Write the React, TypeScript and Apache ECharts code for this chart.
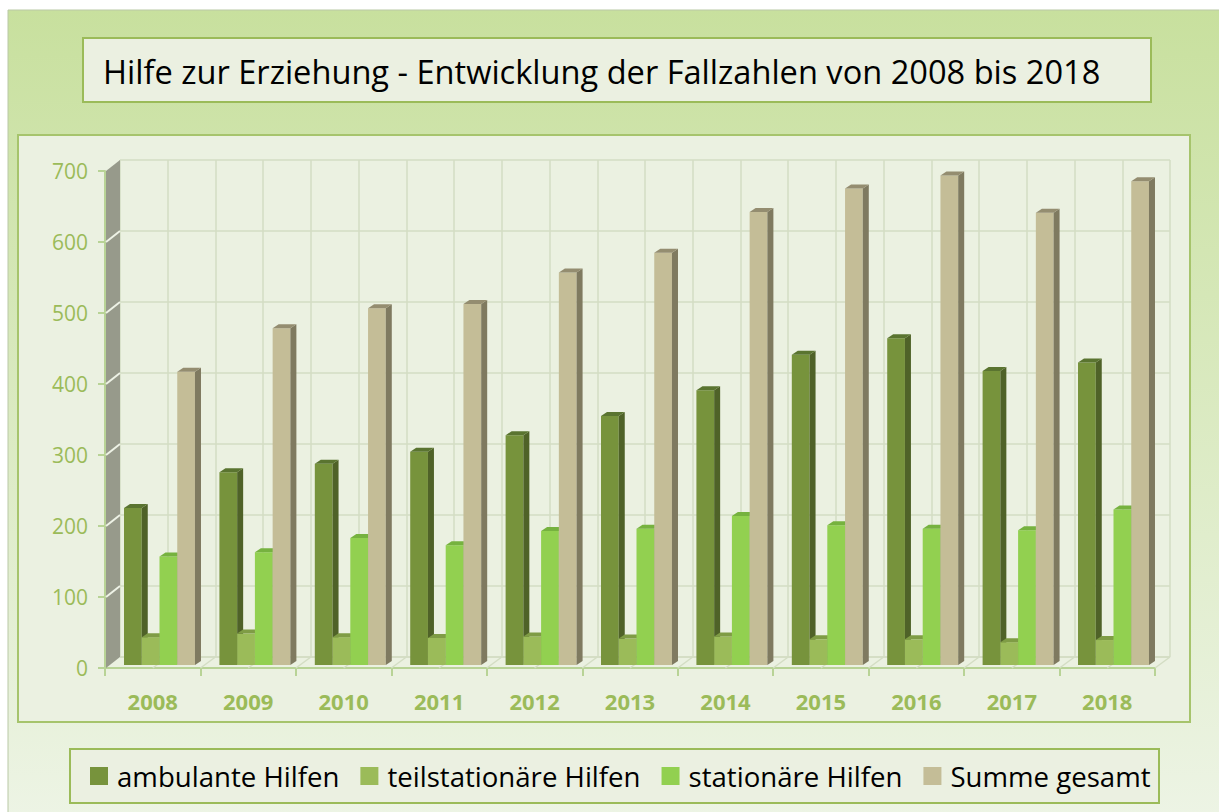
import React, { useEffect, useRef } from "react";
import * as echarts from "echarts";

const years = ["2008", "2009", "2010", "2011", "2012", "2013", "2014", "2015", "2016", "2017", "2018"];
const ambulante = [220, 270, 282, 299, 322, 349, 385, 435, 458, 412, 424];
const teilstationaer = [39, 44, 39, 38, 40, 37, 40, 36, 36, 32, 35];
const stationaer = [152, 158, 178, 168, 188, 191, 209, 196, 191, 189, 218];
const summe = [411, 472, 500, 506, 550, 578, 635, 668, 686, 634, 678];
const yTicks = [0, 100, 200, 300, 400, 500, 600, 700];
const seriesNames = ["ambulante Hilfen", "teilstationäre Hilfen", "stationäre Hilfen", "Summe gesamt"];
const titleText = "Hilfe zur Erziehung - Entwicklung der Fallzahlen von 2008 bis 2018";

const frontColors = ["#77933c", "#9bbb59", "#92d050", "#c4bd97"];
const sideColors = ["#4f6228", "#718c3c", "#6aa538", "#7f7a60"];
const topColors = ["#5a7430", "#7f9c45", "#76b23f", "#948d70"];

const DX = 15;
const DY = 11;
const BAR_DX = 6;
const BAR_DY = 4;
const AXIS_GREEN = "#b8d396";
const LABEL_GREEN = "#9bbb59";
const GRID_LINE = "#d3ddc3";

export default function App() {
  const ref = useRef<HTMLDivElement>(null);
  useEffect(() => {
    if (!ref.current) return;
    const chart = echarts.init(ref.current, null, { renderer: "svg" });
    const allSeries = [ambulante, teilstationaer, stationaer, summe];

    const barRender = (idx: number) => (params: any, api: any) => {
      const cat = api.value(0);
      const val = api.value(1);
      const topPt = api.coord([cat, val]);
      const basePt = api.coord([cat, 0]);
      const band = api.size([1, 0])[0];
      const bw = band * 0.186;
      const x0 = topPt[0] + (idx - 2) * bw;
      const x1 = x0 + bw;
      const yT = topPt[1];
      const yB = basePt[1];
      return {
        type: "group",
        children: [
          { type: "rect", shape: { x: x0, y: yT, width: bw, height: yB - yT }, style: { fill: frontColors[idx] } },
          {
            type: "polygon",
            shape: { points: [[x1, yT], [x1 + BAR_DX, yT - BAR_DY], [x1 + BAR_DX, yB - BAR_DY], [x1, yB]] },
            style: { fill: sideColors[idx] },
          },
          {
            type: "polygon",
            shape: { points: [[x0, yT], [x0 + BAR_DX, yT - BAR_DY], [x1 + BAR_DX, yT - BAR_DY], [x1, yT]] },
            style: { fill: topColors[idx] },
          },
        ],
      };
    };

    const wallRender = (params: any, api: any) => {
      const band = api.size([1, 0])[0];
      const b0 = api.coord([0, 0]);
      const t0 = api.coord([0, 700]);
      const xl = b0[0] - band / 2;
      const xr = xl + band * years.length;
      const children: any[] = [];
      children.push({
        type: "polygon",
        shape: { points: [[xl + 1, b0[1]], [xl + 1, t0[1]], [xl + DX, t0[1] - DY], [xl + DX, b0[1] - DY]] },
        style: { fill: "#979a8b" },
      });
      yTicks.forEach((t) => {
        const p = api.coord([0, t]);
        if (t > 0 && t < 700) {
          children.push({
            type: "line",
            shape: { x1: xl + 1, y1: p[1], x2: xl + DX, y2: p[1] - DY },
            style: { stroke: "#eef2e6", lineWidth: 2 },
          });
        }
      });
      for (let k = 1; k <= years.length * 2; k++) {
        const x = xl + (band / 2) * k;
        children.push({
          type: "line",
          shape: { x1: x, y1: b0[1], x2: x + DX, y2: b0[1] - DY },
          style: { stroke: GRID_LINE, lineWidth: 1.5 },
        });
      }
      children.push({
        type: "line",
        shape: { x1: xl + DX, y1: b0[1] - DY, x2: xr + DX, y2: b0[1] - DY },
        style: { stroke: GRID_LINE, lineWidth: 1.5 },
      });
      return { type: "group", children };
    };

    const option: any = {
      animation: false,
      backgroundColor: "#ffffff",
      title: {
        text: titleText,
        left: 98,
        top: 50,
        textStyle: { fontFamily: "Open Sans", fontSize: 32.6, fontWeight: "normal", color: "#000000" },
      },
      legend: {
        data: seriesNames,
        left: 85,
        top: 757,
        itemWidth: 18,
        itemHeight: 18,
        itemGap: 21,
        icon: "rect",
        textStyle: { fontFamily: "Open Sans", fontSize: 27.6, color: "#000000", padding: [0, 0, 0, 4] },
      },
      graphic: [
        {
          type: "rect",
          z: -10,
          shape: { x: 8, y: 10, width: 1220, height: 810 },
          style: {
            fill: new echarts.graphic.LinearGradient(0, 0, 0, 1, [
              { offset: 0, color: "#c8e09e" },
              { offset: 1, color: "#edf4e5" },
            ]),
            stroke: "#b9c8a5",
            lineWidth: 1,
          },
        },
        {
          type: "rect",
          z: -9,
          shape: { x: 83, y: 38, width: 1068, height: 64 },
          style: { fill: "#ebf0e1", stroke: "#9bbb59", lineWidth: 2 },
        },
        {
          type: "rect",
          z: -9,
          shape: { x: 18, y: 135, width: 1172, height: 587 },
          style: { fill: "#ebf1e1", stroke: "#a6c46c", lineWidth: 2 },
        },
        {
          type: "rect",
          z: -9,
          shape: { x: 70, y: 749, width: 1089, height: 54 },
          style: { fill: "#ebf0e1", stroke: "#9bbb59", lineWidth: 2 },
        },
      ],
      grid: [
        { left: 105, right: 64, top: 171, bottom: 144 },
        { left: 120, right: 49, top: 160, bottom: 155 },
        { left: 111.8, right: 57.8, top: 165.6, bottom: 147 },
      ],
      xAxis: [
        {
          gridIndex: 0,
          type: "category",
          data: years,
          boundaryGap: true,
          axisLine: { show: true, lineStyle: { color: AXIS_GREEN, width: 2 } },
          axisTick: { show: true, length: 8, lineStyle: { color: AXIS_GREEN, width: 2 } },
          axisLabel: {
            margin: 22,
            color: LABEL_GREEN,
            fontFamily: "Open Sans",
            fontSize: 22,
            fontWeight: "bold",
          },
          splitLine: { show: false },
        },
        {
          gridIndex: 1,
          type: "value",
          min: 0,
          max: 22,
          interval: 1,
          axisLine: { show: false },
          axisTick: { show: false },
          axisLabel: { show: false },
          splitLine: { show: true, lineStyle: { color: GRID_LINE, width: 1.5 } },
        },
        {
          gridIndex: 2,
          type: "category",
          data: years,
          show: false,
        },
      ],
      yAxis: [
        {
          gridIndex: 0,
          type: "value",
          min: 0,
          max: 700,
          interval: 100,
          axisLine: { show: true, lineStyle: { color: AXIS_GREEN, width: 2 } },
          axisTick: { show: true, length: 7, lineStyle: { color: AXIS_GREEN, width: 2 } },
          axisLabel: { margin: 17, color: LABEL_GREEN, fontFamily: "Open Sans", fontSize: 21 },
          splitLine: { show: false },
        },
        {
          gridIndex: 1,
          type: "value",
          min: 0,
          max: 700,
          interval: 100,
          axisLine: { show: false },
          axisTick: { show: false },
          axisLabel: { show: false },
          splitLine: { show: true, lineStyle: { color: GRID_LINE, width: 1.5 } },
        },
        {
          gridIndex: 2,
          type: "value",
          min: 0,
          max: 700,
          show: false,
          splitLine: { show: false },
        },
      ],
      series: [
        {
          type: "custom",
          name: "wall",
          xAxisIndex: 0,
          yAxisIndex: 0,
          data: [[0, 0]],
          renderItem: wallRender,
          silent: true,
          z: 1,
        },
        ...allSeries.map((vals, idx) => ({
          type: "custom",
          name: seriesNames[idx],
          xAxisIndex: 2,
          yAxisIndex: 2,
          itemStyle: { color: frontColors[idx] },
          encode: { x: 0, y: 1 },
          data: vals.map((v, i) => [i, v]),
          renderItem: barRender(idx),
          z: 3,
        })),
      ],
    };
    chart.setOption(option);
    return () => chart.dispose();
  }, []);

  return (
    <div
      ref={ref}
      style={{ position: "fixed", left: 0, top: 0, width: 1219, height: 812 }}
    />
  );
}
